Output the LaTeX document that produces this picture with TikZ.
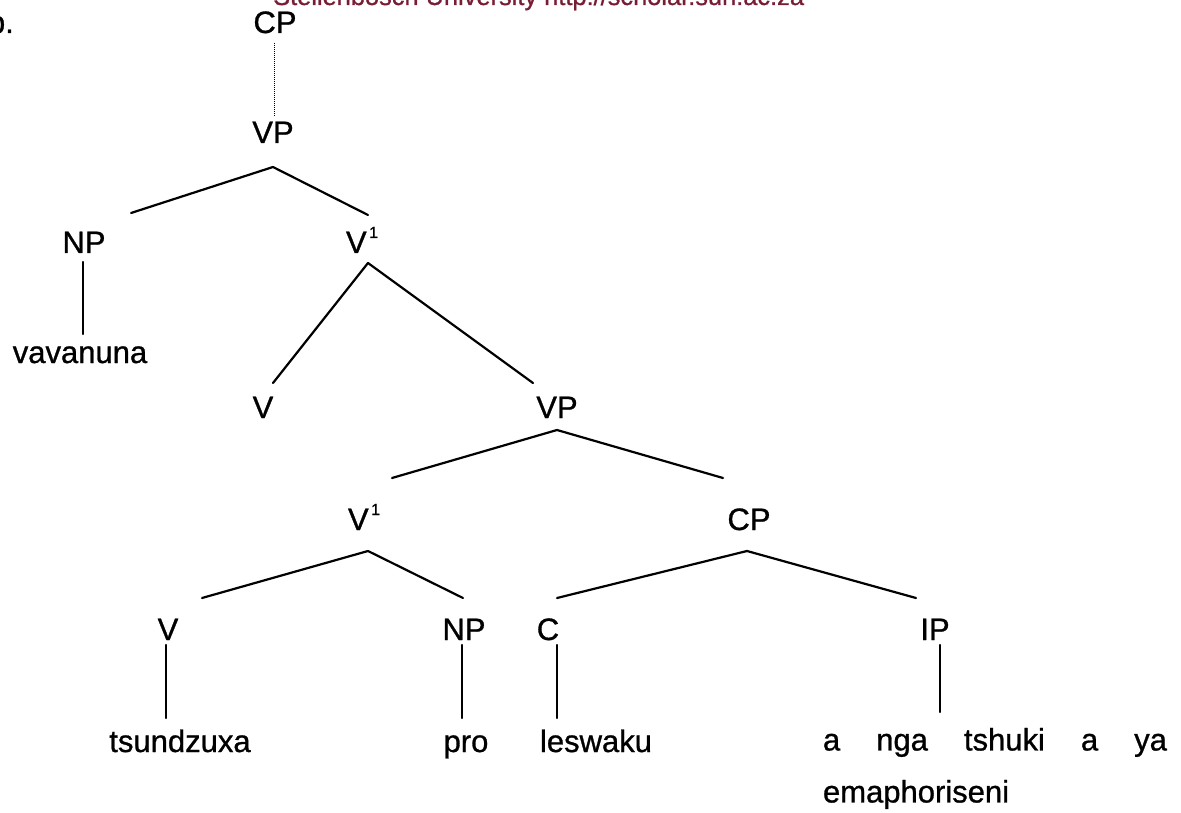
\documentclass[tikz,border=0pt]{standalone}
\usepackage{fontspec}
\setmainfont{Liberation Sans}[BoldFont={Liberation Sans},BoldFeatures={FakeBold=0.9}]
\definecolor{sunred}{RGB}{120,30,52}
\newcommand\labfont{\fontsize{31}{37}\selectfont\bfseries}
\newcommand\supone{\kern2.5pt\raisebox{15pt}{\fontsize{16}{16}\selectfont 1}}
\begin{document}
\begin{tikzpicture}[x=1pt,y=1pt,
  lab/.style={inner sep=0pt, outer sep=0pt, text height=22pt, text depth=0pt, font=\labfont},
  branch/.style={line width=2.2pt, line cap=round},
  trace/.style={line width=0.9pt, dash pattern=on 1pt off 1pt}]
\useasboundingbox (0,0) rectangle (1181,-813);
% header and example label
\node[anchor=base west, inner sep=0pt, font=\fontsize{25.4}{30}\selectfont\bfseries, text=sunred] (hdr) at (273,-5) {Stellenbosch University http://scholar.sun.ac.za};
\node[anchor=base east, inner sep=0pt, font=\labfont] (ex) at (14,-33) {b.};
% tree nodes (anchor south = baseline)
\node[lab, anchor=south] (CP0) at (275,-33) {CP};
\node[lab, anchor=south] (VP0) at (273,-143) {VP};
\node[lab, anchor=south] (NP1) at (84,-253) {NP};
\node[lab, anchor=south west] (V1a) at (346,-253) {V\supone};
\node[lab, anchor=south] (vav) at (80,-363) {vavanuna};
\node[lab, anchor=south] (V2) at (263,-418) {V};
\node[lab, anchor=south] (VP2) at (557,-418) {VP};
\node[lab, anchor=south west] (V1b) at (348,-530) {V\supone};
\node[lab, anchor=south] (CP2) at (749,-530) {CP};
\node[lab, anchor=south] (V3) at (168,-640) {V};
\node[lab, anchor=south] (NP3) at (464,-640) {NP};
\node[lab, anchor=south] (C3) at (548,-640) {C};
\node[lab, anchor=south] (IP3) at (935,-640) {IP};
\node[lab, anchor=south] (tsu) at (180,-752) {tsundzuxa};
\node[lab, anchor=south] (pro) at (466,-752) {pro};
\node[lab, anchor=south west] (les) at (540,-752) {leswaku};
\node[inner sep=0pt, outer sep=0pt, anchor=north west, align=left, text width=344pt, font=\fontsize{31}{52}\selectfont\bfseries] (ipt) at (823,-728)
  {\hbox to 344pt{a\hfill nga\hfill tshuki\hfill a\hfill ya}\\emaphoriseni};
% connectors
\draw[trace] ([shift={(-1,-10)}]CP0.south) -- ([shift={(1,4)}]VP0.north);
\draw[branch] ([shift={(0,-24)}]VP0.south) -- ([shift={(47,18)}]NP1.north);
\draw[branch] ([shift={(0,-24)}]VP0.south) -- ([shift={(22,16)}]V1a.north west);
\draw[branch] ([shift={(-1,-9)}]NP1.south) -- ([shift={(3,7)}]vav.north);
\draw[branch] ([shift={(22,-10)}]V1a.south west) -- ([shift={(10,13)}]V2.north);
\draw[branch] ([shift={(22,-10)}]V1a.south west) -- ([shift={(-24,13)}]VP2.north);
\draw[branch] ([shift={(0,-12)}]VP2.south) -- ([shift={(44,30)}]V1b.north west);
\draw[branch] ([shift={(0,-12)}]VP2.south) -- ([shift={(-26,30)}]CP2.north);
\draw[branch] ([shift={(20,-21)}]V1b.south west) -- ([shift={(34,20)}]V3.north);
\draw[branch] ([shift={(20,-21)}]V1b.south west) -- ([shift={(-1,20)}]NP3.north);
\draw[branch] ([shift={(-2,-21)}]CP2.south) -- ([shift={(9,20)}]C3.north);
\draw[branch] ([shift={(-2,-21)}]CP2.south) -- ([shift={(-19,20)}]IP3.north);
\draw[branch] ([shift={(-2,-5)}]V3.south) -- ([shift={(-14,12)}]tsu.north);
\draw[branch] ([shift={(-2,-5)}]NP3.south) -- ([shift={(-4,12)}]pro.north);
\draw[branch] ([shift={(9,-5)}]C3.south) -- ([shift={(17,12)}]les.north west);
\draw[branch] ([shift={(5,-5)}]IP3.south) -- ([shift={(117,16)}]ipt.north west);
\end{tikzpicture}
\end{document}
